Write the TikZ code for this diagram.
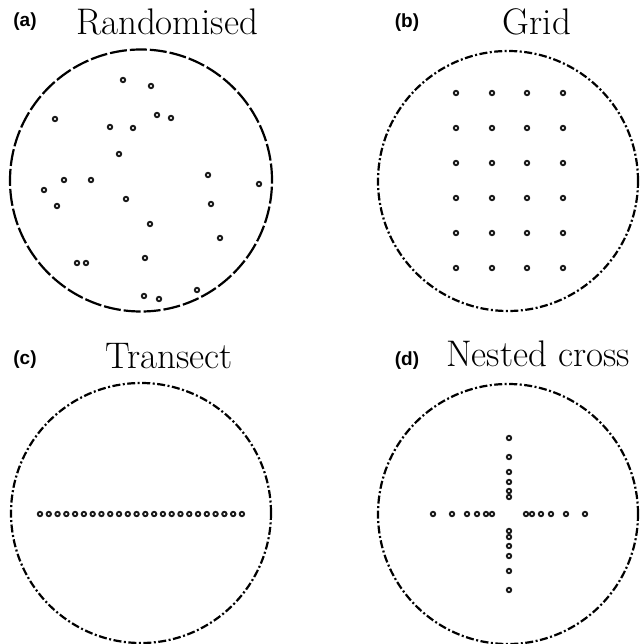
\documentclass[tikz,border=0pt]{standalone}
\usepackage{fontspec}
\newfontfamily\labfont{Liberation Sans}
\begin{document}
\begin{tikzpicture}[x=1pt,y=-1pt,
  plot/.style={circle,draw=black!90,fill=white,line width=1.9pt,inner sep=0pt,minimum size=4.4pt},
  ringA/.style={draw=black,line width=2.2pt,dash pattern=on 17pt off 3pt},
  ringB/.style={draw=black,line width=2.2pt,dash pattern=on 8pt off 2.5pt on 2pt off 2.5pt},
  ttl/.style={font=\fontsize{37}{40}\selectfont,anchor=base,inner sep=0pt},
  lab/.style={font=\labfont\bfseries\fontsize{19}{22}\selectfont,inner sep=0pt}]
\useasboundingbox (0,0) rectangle (639,644);

% titles and panel labels
\node[lab] (la) at (25,22) {(a)};
\node[ttl] (ta) at (167,35) {Randomised};
\node[lab] (lb) at (407,23) {(b)};
\node[ttl] (tb) at (537,35) {Grid};
\node[lab] (lc) at (25,360) {(c)};
\node[ttl] (tc) at (169,368) {Transect};
\node[lab] (ld) at (407,361) {(d)};
\node[ttl] (td) at (538,366) {Nested cross};

% boundary circles
\draw[ringA] (141,180.5) circle (131pt);
\draw[ringB] (508,181) circle (130pt);
\draw[ringB] (141,513) circle (130pt);
\draw[ringB] (508,514) circle (130pt);

% (a) randomised
\foreach \x/\y [count=\i] in {123/80,151/86,55/119,110/127,133/128,157/115,171/118,119/154,
  64/180,91/180,44/190,57/206,126/199,208/175,259/184,211/204,150/224,220/238,
  77/263,86/263,145/258,197/290,144/296,159/299}
  \node[plot] (a\i) at (\x,\y) {};

% (b) grid
\foreach \x [count=\i] in {456,492,527,563}
  \foreach \y [count=\j] in {93,128,163,198,233,268}
    \node[plot] (b\i-\j) at (\x,\y) {};

% (c) transect
\foreach \k in {0,...,23}
  \node[plot] (c\k) at ({40+\k*8.78},514) {};

% (d) nested cross
\foreach \d [count=\i] in {17,23,32,42,57,76}{
  \node[plot] (dl\i) at (509-\d,514) {};
  \node[plot] (dr\i) at (509+\d,514) {};
  \node[plot] (du\i) at (509,514-\d) {};
  \node[plot] (dd\i) at (509,514+\d) {};
}
\end{tikzpicture}
\end{document}
